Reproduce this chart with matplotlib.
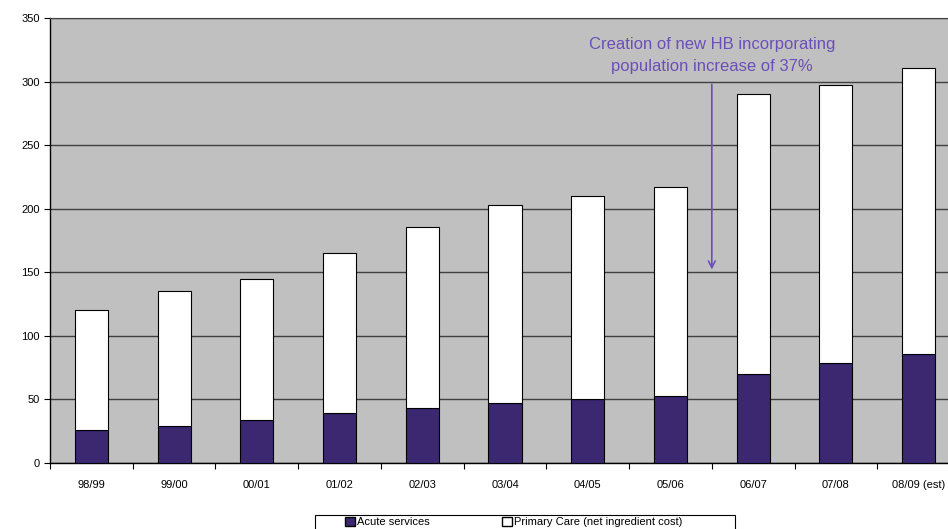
import numpy as np
import matplotlib.pyplot as plt
from matplotlib.patches import Patch, Rectangle

plt.rcParams['font.family'] = ['Liberation Sans', 'DejaVu Sans']

# data
years = ['98/99', '99/00', '00/01', '01/02', '02/03', '03/04',
         '04/05', '05/06', '06/07', '07/08', '08/09 (est)']
acute = [26, 29, 34, 39, 43, 47, 50, 53, 70, 79, 86]
total = [120, 135, 145, 165, 185.5, 203, 210, 217, 290, 297, 311]
primary = [t - a for t, a in zip(total, acute)]

purple = '#3b2870'
note_col = '#6a4fb8'

fig = plt.figure(figsize=(9.48, 5.29), dpi=100)
ax = fig.add_axes([50/948, 1 - 463/529, 910/948, 445/529])
ax.set_facecolor('#c0c0c0')

x = np.arange(len(years))
ax.bar(x, acute, width=0.4, color=purple, edgecolor='black', linewidth=0.8, zorder=3)
ax.bar(x, primary, width=0.4, bottom=acute, color='white', edgecolor='black',
       linewidth=0.8, zorder=3)

ax.set_xlim(-0.5, len(years) - 0.5)
ax.set_ylim(0, 350)
ax.set_yticks(range(0, 351, 50))
ax.yaxis.grid(True, color='#404040', linewidth=1.0, zorder=1)
ax.set_axisbelow(True)

ax.set_xticks(x)
ax.set_xticklabels(years, fontsize=8)
ax.set_xticks(np.arange(-0.5, len(years), 1), minor=True)
ax.tick_params(axis='x', which='major', length=0, pad=12)
ax.tick_params(axis='x', which='minor', length=4, direction='out', width=0.8)
ax.tick_params(axis='y', labelsize=8, length=4, width=0.8)

ax.spines['right'].set_visible(False)
ax.spines['top'].set_color('#404040')
ax.spines['left'].set_linewidth(1.0)
ax.spines['bottom'].set_linewidth(1.0)

ax.annotate('', xy=(7.5, 150), xytext=(7.5, 300),
            arrowprops=dict(arrowstyle='->', color=note_col, lw=1.2,
                            mutation_scale=12), zorder=4)
ax.text(7.5, 320.5, 'Creation of new HB incorporating\npopulation increase of 37%',
        ha='center', va='center', color=note_col, fontsize=12, linespacing=1.65)

# legend box (cut off by the bottom edge)
fig.patches.append(Rectangle((315/948, -0.02), 420/948, 0.02 + 14/529,
                             transform=fig.transFigure, facecolor='white',
                             edgecolor='black', linewidth=0.8))
handles = [Patch(facecolor=purple, edgecolor='black', label='Acute services'),
           Patch(facecolor='white', edgecolor='black', label='Primary Care (net ingredient cost)')]
leg = fig.legend(handles=handles, loc='upper left',
                 bbox_to_anchor=(345/948, 1 - 517/529),
                 ncol=2, fontsize=8, frameon=False,
                 handlelength=0.9, handleheight=0.9, handletextpad=0.2,
                 columnspacing=6.45, borderpad=0, borderaxespad=0)

fig.savefig('out.png', dpi=100)
